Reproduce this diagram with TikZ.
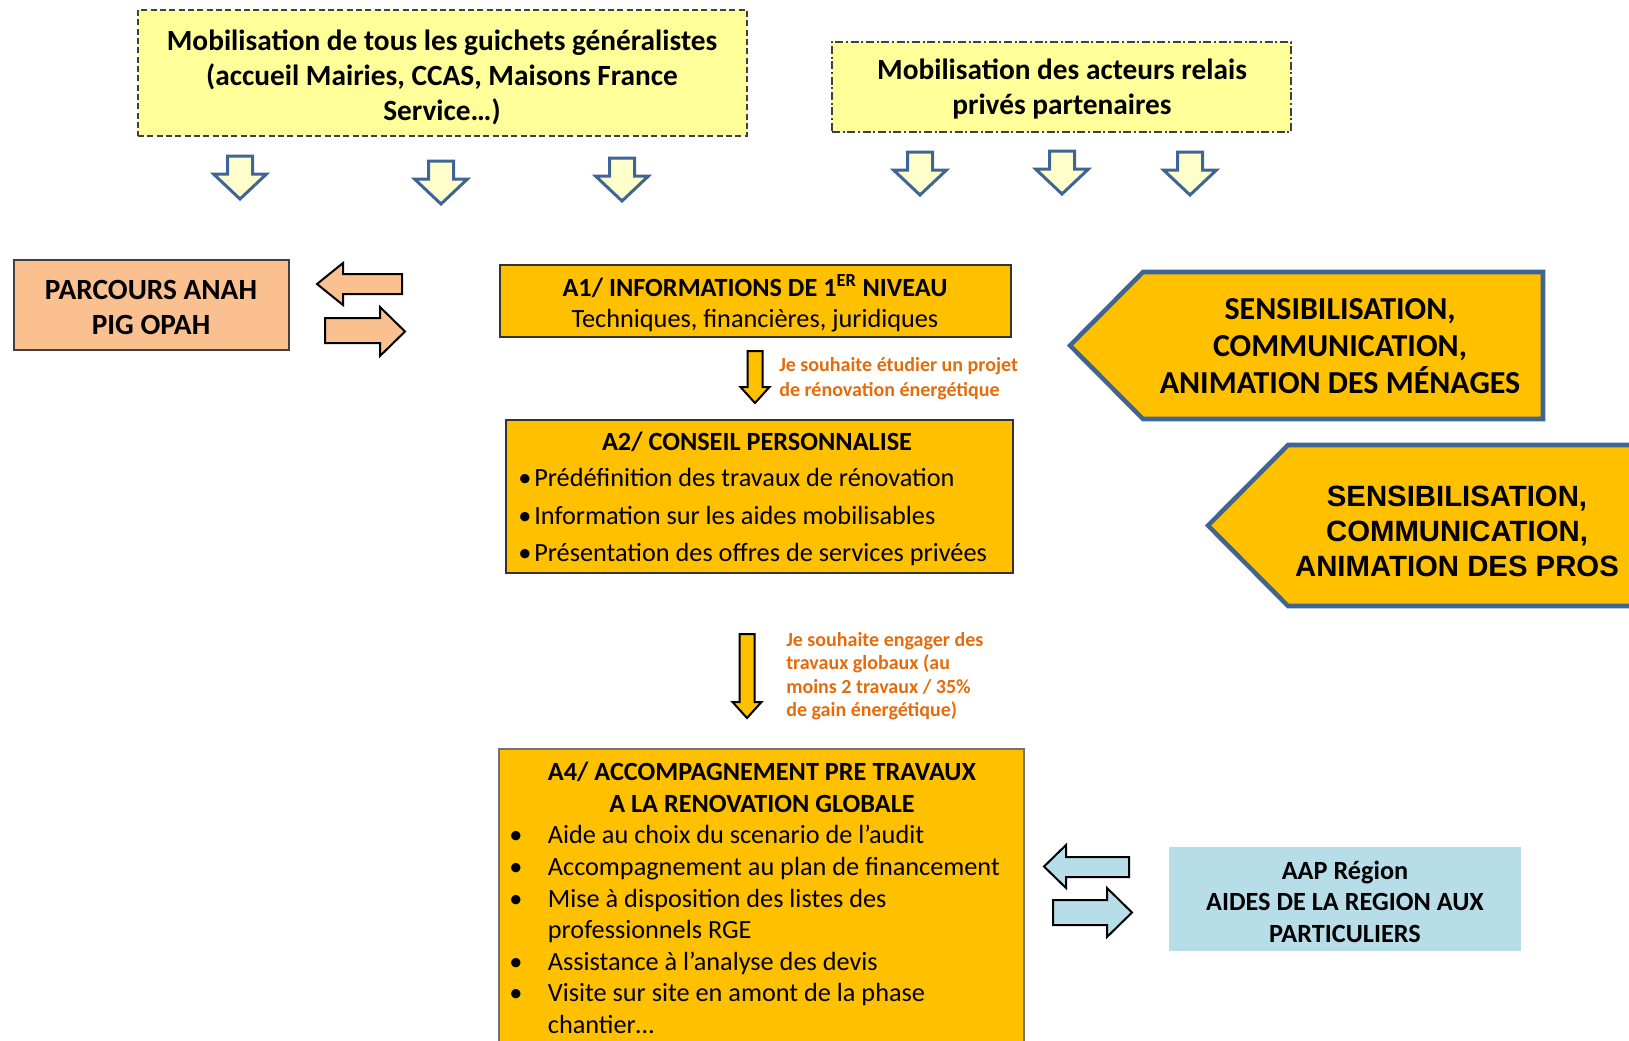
\documentclass[tikz,border=0pt]{standalone}
\usepackage{fontspec}
\setmainfont{Carlito}
\newfontfamily\arialf{Liberation Sans}
\usetikzlibrary{fit}
\definecolor{yelbox}{HTML}{FFFF99}
\definecolor{arrblue}{HTML}{3F6496}
\definecolor{palyel}{HTML}{FFFFCC}
\definecolor{peach}{HTML}{FAC090}
\definecolor{gold}{HTML}{FFC000}
\definecolor{orangetxt}{HTML}{E46C0A}
\definecolor{lblue}{HTML}{B7DEE8}
\definecolor{dashgray}{HTML}{404040}
\tikzset{
  rectbox/.style={inner sep=0pt, outer sep=0pt},
  txt/.style={inner sep=0pt, align=center, text=black},
  hollowdown/.style={draw=arrblue, line width=2.25pt, fill=palyel, line join=miter},
  blockarrow/.style={draw=black, line width=1.5pt, line join=miter},
  pentagon/.style={draw=arrblue, line width=3.4pt, fill=gold, line join=miter},
  pics/dnarrow/.style={code={
    \path[hollowdown] (-12.5,0) -- (12.5,0) -- (12.5,18) -- (26.5,18) -- (0,43)
      -- (-26.5,18) -- (-12.5,18) -- cycle;}},
  pics/golddown/.style={code={
    \path[blockarrow, fill=gold] (-7.5,0) -- (7.5,0) -- (7.5,#1) -- (14.5,#1) -- (0,{#1+16})
      -- (-14.5,#1) -- (-7.5,#1) -- cycle;}},
}
\begin{document}
\begin{tikzpicture}[x=0.75pt,y=-0.75pt]
\useasboundingbox (0,0) rectangle (1629,1040);

% top yellow boxes
\node[rectbox, fit={(138,10) (747,136)}, fill=yelbox, draw=dashgray, line width=0.9pt,
      dash pattern=on 4.5pt off 2.5pt] (g1) {};
\node[txt, font=\bfseries\fontsize{22}{26.3}\selectfont] (g1t) at (442,77)
  {Mobilisation de tous les guichets généralistes\\(accueil Mairies, CCAS, Maisons France\\Service…)};
\node[rectbox, fit={(832,42) (1291,132)}, fill=yelbox, draw=dashgray, line width=0.9pt,
      dash pattern=on 6pt off 2pt on 1.5pt off 2pt] (g2) {};
\node[txt, font=\bfseries\fontsize{22}{26.3}\selectfont] (g2t) at (1062,89)
  {Mobilisation des acteurs relais\\privés partenaires};

% hollow down arrows
\pic at (240,156) {dnarrow};
\pic at (441,161) {dnarrow};
\pic at (622,158) {dnarrow};
\pic at (920,152) {dnarrow};
\pic at (1062,151) {dnarrow};
\pic at (1190,152) {dnarrow};

% PARCOURS
\node[rectbox, fit={(14,260) (289,350)}, fill=peach, draw=black!75, line width=0.9pt] (pa) {};
\node[txt, font=\bfseries\fontsize{22}{26.3}\selectfont] (pat) at (151,307.5)
  {PARCOURS ANAH\\PIG OPAH};
\path[blockarrow, fill=peach] (402,274) -- (343,274) -- (343,263) -- (317,284) -- (343,305)
  -- (343,294) -- (402,294) -- cycle;
\path[blockarrow, fill=peach] (325,318) -- (380,318) -- (380,307) -- (405,331.5) -- (380,356)
  -- (380,343) -- (325,343) -- cycle;

% A1
\node[rectbox, fit={(500,265) (1011,337)}, fill=gold, draw=black!80, line width=0.9pt] (a1) {};
\node[txt, font=\fontsize{19.7}{23.3}\selectfont] (a1t) at (755,303)
  {\textbf{A1/ INFORMATIONS DE 1\textsuperscript{ER} NIVEAU}\\Techniques, financières, juridiques};

% arrow 1 and label
\pic at (755,351) {golddown=36};
\node[txt, align=left, anchor=west, text=orangetxt, font=\bfseries\fontsize{15}{18.7}\selectfont]
  (l1) at (779,379) {Je souhaite étudier un projet\\de rénovation énergétique};

% A2
\node[rectbox, fit={(506,420) (1013,573)}, fill=gold, draw=black!80, line width=0.9pt] (a2) {};
\node[txt, font=\bfseries\fontsize{19.7}{23.3}\selectfont] (a2t) at (757,442)
  {A2/ CONSEIL PERSONNALISE};
\node[txt, align=left, anchor=west, font=\fontsize{19.7}{27.8}\selectfont] (a2l) at (518,517)
  {\makebox[12pt][l]{\textbullet}Prédéfinition des travaux de rénovation\\
   \makebox[12pt][l]{\textbullet}Information sur les aides mobilisables\\
   \makebox[12pt][l]{\textbullet}Présentation des offres de services privées};

% arrow 2 and label
\pic at (747,634) {golddown=68};
\node[txt, align=left, anchor=west, text=orangetxt, font=\bfseries\fontsize{15}{17.6}\selectfont]
  (l2) at (786,676)
  {Je souhaite engager des\\travaux globaux (au\\moins 2 travaux / 35\%\\de gain énergétique)};

% A4
\node[rectbox, fit={(499,749) (1024,1055)}, fill=gold, draw=black!55, line width=0.9pt] (a4) {};
\node[txt, font=\bfseries\fontsize{19.7}{24}\selectfont] (a4t) at (762,787)
  {A4/ ACCOMPAGNEMENT PRE TRAVAUX\\A LA RENOVATION GLOBALE};
\node[txt, align=left, anchor=west, font=\fontsize{19.7}{23.7}\selectfont] (a4l) at (509,929.5)
  {\makebox[29pt][l]{\textbullet}Aide au choix du scenario de l’audit\\
   \makebox[29pt][l]{\textbullet}Accompagnement au plan de financement\\
   \makebox[29pt][l]{\textbullet}Mise à disposition des listes des\\
   \hspace*{29pt}professionnels RGE\\
   \makebox[29pt][l]{\textbullet}Assistance à l’analyse des devis\\
   \makebox[29pt][l]{\textbullet}Visite sur site en amont de la phase\\
   \hspace*{29pt}chantier…};

% pentagons
\path[pentagon] (1143,272) -- (1543,272) -- (1543,419) -- (1143,419) -- (1070,345.5) -- cycle;
\node[txt, font=\bfseries\fontsize{24}{27.8}\selectfont] (s1) at (1340,346)
  {SENSIBILISATION,\\COMMUNICATION,\\ANIMATION DES MÉNAGES};
\path[pentagon] (1288,445) -- (1660,445) -- (1660,606) -- (1288,606) -- (1208,525.5) -- cycle;
\node[txt, font=\arialf\bfseries\fontsize{22}{26.3}\selectfont] (s2) at (1457,531)
  {SENSIBILISATION,\\COMMUNICATION,\\ANIMATION DES PROS};

% blue arrows and AAP
\path[blockarrow, fill=lblue] (1129,857) -- (1066,857) -- (1066,845) -- (1044,866.5) -- (1066,888)
  -- (1066,877) -- (1129,877) -- cycle;
\path[blockarrow, fill=lblue] (1053,900) -- (1107,900) -- (1107,888) -- (1132,912.5) -- (1107,937)
  -- (1107,925) -- (1053,925) -- cycle;
\node[rectbox, fit={(1169,847) (1521,951)}, fill=lblue] (aap) {};
\node[txt, font=\bfseries\fontsize{19.7}{23.6}\selectfont] (aapt) at (1345,901.5)
  {AAP Région\\AIDES DE LA REGION AUX\\PARTICULIERS};
\end{tikzpicture}
\end{document}
